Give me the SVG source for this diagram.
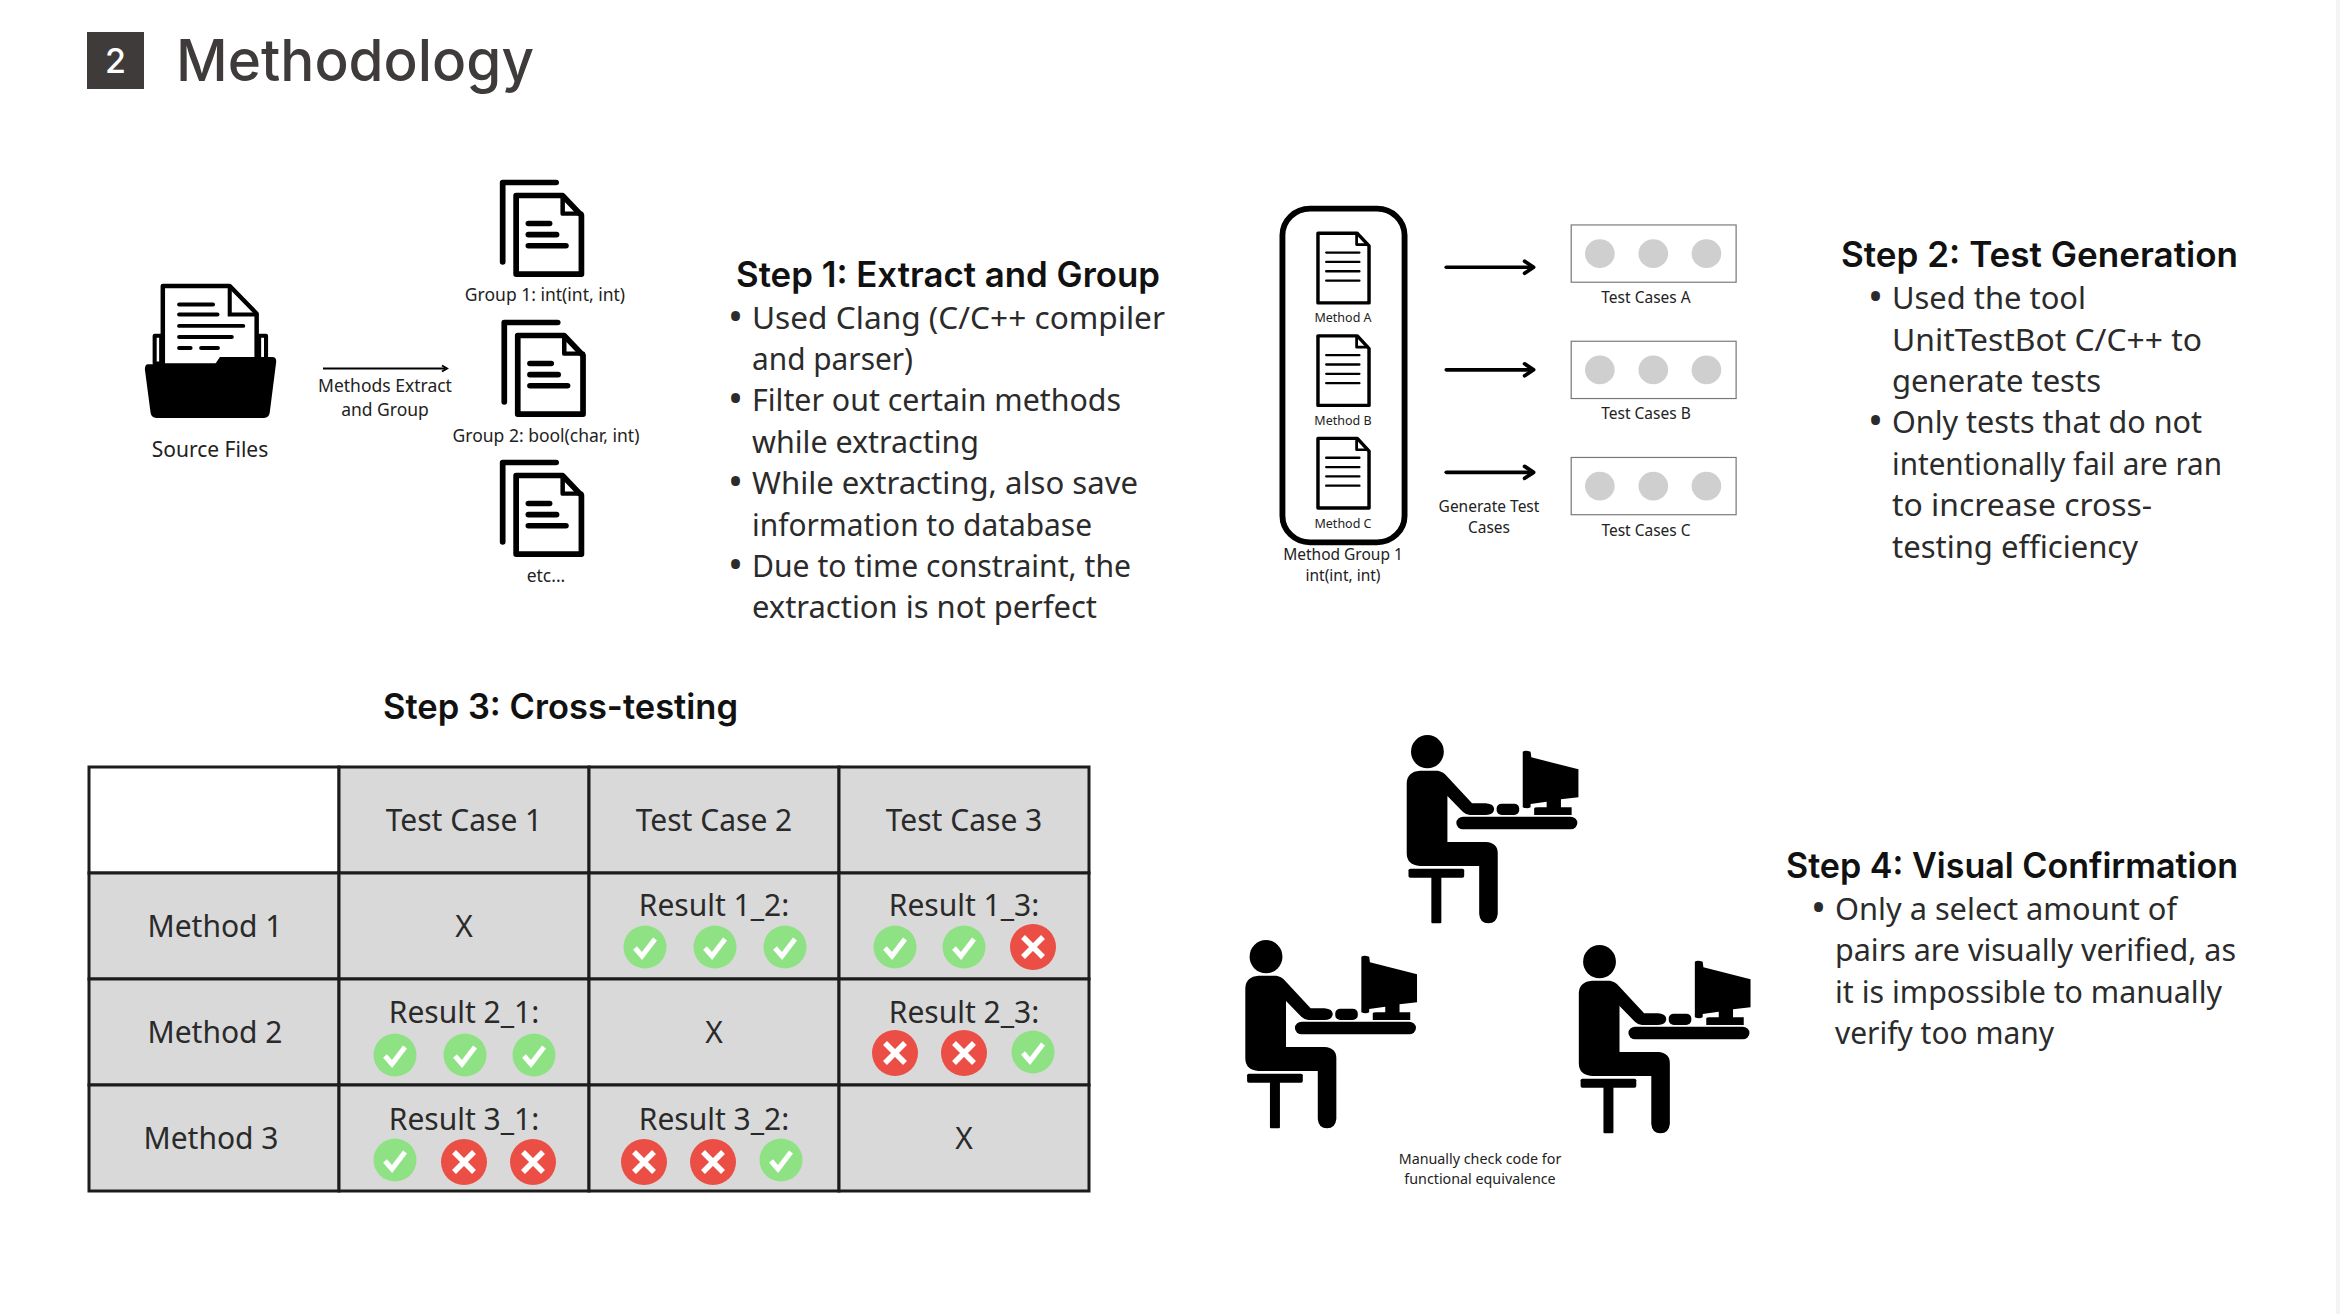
<svg xmlns="http://www.w3.org/2000/svg" width="2340" height="1314" viewBox="0 0 2340 1314">
<style>
text{font-family:"Noto Sans","Liberation Sans",sans-serif;fill:#222}
.body{font-size:31.5px;fill:#2b2b2b}
.bul{font-size:40px;fill:#2b2b2b}
.head{font-family:Inter,"Liberation Sans",sans-serif;font-size:35px;font-weight:600;fill:#111}
.cell{font-size:30px;text-anchor:middle;fill:#2a2a2a}
.s20{font-size:21px;text-anchor:middle}
.s17{font-size:17.500px;text-anchor:middle}
.s16{font-size:15.500px;text-anchor:middle}
.s13{font-size:12.500px;text-anchor:middle}
.grid{fill:#d9d9d9;stroke:#1c1c1c;stroke-width:3}
</style>
<defs>
<g id="stack" fill="none" stroke="#000" stroke-linecap="round" stroke-linejoin="round" stroke-width="14">
<path d="M1085,663V462H1216"/>
<path d="M1118,495H1232L1278,545V694H1118Z"/>
<path d="M1232,497V541H1278" stroke-width="11"/>
<path d="M1148,566H1200M1148,594H1217M1148,622H1240"/>
</g>
<g id="doc" fill="none" stroke="#000" stroke-linejoin="round" stroke-width="10">
<path d="M226,160H340L374,198V369H226Z"/>
<path d="M338,162V194H372" stroke-width="8"/>
<path d="M250,218H346M250,246H346M250,274H346M250,302H346" stroke-width="7" stroke-linecap="round"/>
</g>
<g id="tc">
<rect x="960" y="135" width="478" height="172" fill="#fff" stroke="#777" stroke-width="3.500"/>
<circle cx="1043" cy="221" r="43" fill="#cfcfcf"/><circle cx="1198" cy="221" r="43" fill="#cfcfcf"/><circle cx="1352" cy="221" r="43" fill="#cfcfcf"/>
</g>
<g id="arrow" fill="none" stroke="#000" stroke-width="11" stroke-linecap="round" stroke-linejoin="round"><path d="M598,262H848"/><path d="M825,244L851,262L825,280"/></g>
<g id="ok"><circle r="21.500" fill="#8ee284"/><path d="M-10,1L-3,9L10,-8" fill="none" stroke="#fff" stroke-width="5"/></g>
<g id="no"><circle r="23" fill="#ea4e45"/><path d="M-10,-10L10,10M10,-10L-10,10" fill="none" stroke="#fff" stroke-width="5.500"/></g>
<g id="person">
<ellipse cx="581" cy="125" rx="46" ry="50"/>
<path d="M560,182H610Q625,185 635,198L706,280H745Q768,282 768,298Q766,315 745,315H700Q690,315 680,305L637,258V396H745Q778,398 778,430V612Q775,640 752,640Q728,640 726,612V468H560Q523,465 523,430V218Q525,185 560,182Z"/>
<rect x="775" y="281" width="63" height="34" rx="14"/>
<path d="M848,125Q855,120 870,125L872,142L1004,178V262L955,268V292H985V315H880V296Q880,292 890,292H915V275L870,282V292Q860,298 848,292Z"/>
<rect x="662" y="320" width="339" height="38" rx="19"/>
<rect x="528" y="476" width="156" height="27" rx="5"/>
<rect x="592" y="500" width="28" height="140" rx="3"/>
</g>
</defs>
<rect width="2340" height="1314" fill="#fff"/>

<g id="title">
<rect x="87" y="32" width="57" height="57" fill="#3f3b3b"/>
<text x="115.500" y="73" font-size="34" font-weight="500" text-anchor="middle" style="font-family:Inter,'Liberation Sans',sans-serif;fill:#fff">2</text>
<text x="176" y="81" font-size="58" textLength="358" lengthAdjust="spacingAndGlyphs" style="font-family:Inter,'Liberation Sans',sans-serif;font-weight:500;fill:#3f3b3b">Methodology</text>
</g>

<g id="source-files">
<g transform="translate(60,0) scale(.408,.395)">
<path d="M232,850H248V920H232ZM488,850H505V920H488Z" fill="#fff" stroke="#000" stroke-width="10" stroke-linejoin="round"/>
<path d="M252,724H416L482,794V925H252Z" fill="#fff" stroke="#000" stroke-width="11" stroke-linejoin="round"/>
<path d="M416,724V796H482" fill="none" stroke="#000" stroke-width="10"/>
<path d="M292,771H375M292,796H386M292,825H449M292,853H421M292,881H320M346,881H387" fill="none" stroke="#000" stroke-width="10" stroke-linecap="round"/>
<path d="M216,922H380L392,904H520Q530,904 530,915L514,1045Q512,1058 500,1058H236Q224,1058 222,1045L208,935Q208,922 216,922Z"/>
</g>
<text class="s20" x="210" y="457">Source Files</text>
</g>

<g id="group-1"><use href="#stack" transform="translate(60,0) scale(.408,.395)"/><text class="s17" x="545" y="301">Group 1: int(int, int)</text></g>
<g id="group-2"><use href="#stack" transform="translate(61.600,140) scale(.408,.395)"/><text class="s17" x="546" y="442">Group 2: bool(char, int)</text></g>
<g id="group-etc"><use href="#stack" transform="translate(60,280) scale(.408,.395)"/><text class="s17" x="546" y="582">etc...</text></g>

<g id="connectors">
<path d="M323,368.500H445" stroke="#000" stroke-width="2" fill="none"/>
<path d="M442,365.500L447,368.500L442,371.500" stroke="#000" stroke-width="2" fill="none"/>
<g transform="translate(1240,180) scale(.345,.333)">
<use href="#arrow"/><use href="#arrow" y="308"/><use href="#arrow" y="616"/>
</g>
</g>
<text class="s17" x="385" y="392">Methods Extract</text>
<text class="s17" x="385" y="416">and Group</text>

<g id="step1-text">
<text class="head" x="736" y="287" textLength="424" lengthAdjust="spacingAndGlyphs">Step 1: Extract and Group</text>
<text class="bul" x="728" y="331">•</text><text class="body" x="752" y="329" textLength="413" lengthAdjust="spacingAndGlyphs">Used Clang (C/C++ compiler</text>
<text class="body" x="752" y="370" textLength="161" lengthAdjust="spacingAndGlyphs">and parser)</text>
<text class="bul" x="728" y="413">•</text><text class="body" x="752" y="411" textLength="369" lengthAdjust="spacingAndGlyphs">Filter out certain methods</text>
<text class="body" x="752" y="453" textLength="227" lengthAdjust="spacingAndGlyphs">while extracting</text>
<text class="bul" x="728" y="496">•</text><text class="body" x="752" y="494" textLength="386" lengthAdjust="spacingAndGlyphs">While extracting, also save</text>
<text class="body" x="752" y="536" textLength="340" lengthAdjust="spacingAndGlyphs">information to database</text>
<text class="bul" x="728" y="579">•</text><text class="body" x="752" y="577" textLength="379" lengthAdjust="spacingAndGlyphs">Due to time constraint, the</text>
<text class="body" x="752" y="618" textLength="345" lengthAdjust="spacingAndGlyphs">extraction is not perfect</text>
</g>

<g id="method-group">
<g transform="translate(1240,180) scale(.345,.333)">
<rect x="123" y="86" width="354" height="1002" rx="80" fill="#fff" stroke="#000" stroke-width="17"/>
<use href="#doc"/><use href="#doc" y="308"/><use href="#doc" y="616"/>
</g>
<text class="s13" x="1343" y="322">Method A</text>
<text class="s13" x="1343" y="425">Method B</text>
<text class="s13" x="1343" y="528">Method C</text>
<text class="s16" x="1343" y="560">Method Group 1</text>
<text class="s16" x="1343" y="581">int(int, int)</text>
</g>
<g id="test-cases-a"><use href="#tc" transform="translate(1240,180) scale(.345,.333)"/><text class="s16" x="1646" y="303">Test Cases A</text></g>
<g id="test-cases-b"><use href="#tc" transform="translate(1240,296.300) scale(.345,.333)"/><text class="s16" x="1646" y="419">Test Cases B</text></g>
<g id="test-cases-c"><use href="#tc" transform="translate(1240,412.500) scale(.345,.333)"/><text class="s16" x="1646" y="536">Test Cases C</text></g>
<text class="s16" x="1489" y="512">Generate Test</text>
<text class="s16" x="1489" y="533">Cases</text>

<g id="step2-text">
<text class="head" x="1841" y="267" textLength="397" lengthAdjust="spacingAndGlyphs">Step 2: Test Generation</text>
<text class="bul" x="1868" y="311">•</text><text class="body" x="1892" y="309" textLength="194" lengthAdjust="spacingAndGlyphs">Used the tool</text>
<text class="body" x="1892" y="351" textLength="310" lengthAdjust="spacingAndGlyphs">UnitTestBot C/C++ to</text>
<text class="body" x="1892" y="392" textLength="209" lengthAdjust="spacingAndGlyphs">generate tests</text>
<text class="bul" x="1868" y="435">•</text><text class="body" x="1892" y="433" textLength="310" lengthAdjust="spacingAndGlyphs">Only tests that do not</text>
<text class="body" x="1892" y="475" textLength="330" lengthAdjust="spacingAndGlyphs">intentionally fail are ran</text>
<text class="body" x="1892" y="516" textLength="260" lengthAdjust="spacingAndGlyphs">to increase cross-</text>
<text class="body" x="1892" y="558" textLength="246" lengthAdjust="spacingAndGlyphs">testing efficiency</text>
</g>

<text class="head" x="383" y="719" textLength="355" lengthAdjust="spacingAndGlyphs">Step 3: Cross-testing</text>

<g id="table">
<rect x="89" y="767" width="250" height="106" fill="#fff" stroke="#1c1c1c" stroke-width="3"/>
<rect class="grid" x="339" y="767" width="250" height="106"/><rect class="grid" x="589" y="767" width="250" height="106"/><rect class="grid" x="839" y="767" width="250" height="106"/>
<rect class="grid" x="89" y="873" width="250" height="106"/><rect class="grid" x="339" y="873" width="250" height="106"/><rect class="grid" x="589" y="873" width="250" height="106"/><rect class="grid" x="839" y="873" width="250" height="106"/>
<rect class="grid" x="89" y="979" width="250" height="106"/><rect class="grid" x="339" y="979" width="250" height="106"/><rect class="grid" x="589" y="979" width="250" height="106"/><rect class="grid" x="839" y="979" width="250" height="106"/>
<rect class="grid" x="89" y="1085" width="250" height="106"/><rect class="grid" x="339" y="1085" width="250" height="106"/><rect class="grid" x="589" y="1085" width="250" height="106"/><rect class="grid" x="839" y="1085" width="250" height="106"/>
<text class="cell" x="464" y="831">Test Case 1</text><text class="cell" x="714" y="831">Test Case 2</text><text class="cell" x="964" y="831">Test Case 3</text>
<text class="cell" x="215" y="937">Method 1</text><text class="cell" x="215" y="1043">Method 2</text><text class="cell" x="211" y="1149">Method 3</text>
<text class="cell" x="464" y="937">X</text><text class="cell" x="714" y="1043">X</text><text class="cell" x="964" y="1149">X</text>
<text class="cell" x="714" y="916">Result 1_2:</text><text class="cell" x="964" y="916">Result 1_3:</text>
<text class="cell" x="464" y="1023">Result 2_1:</text><text class="cell" x="964" y="1023">Result 2_3:</text>
<text class="cell" x="464" y="1130">Result 3_1:</text><text class="cell" x="714" y="1130">Result 3_2:</text>
<use href="#ok" x="645" y="947"/><use href="#ok" x="715" y="947"/><use href="#ok" x="785" y="947"/>
<use href="#ok" x="895" y="947"/><use href="#ok" x="964" y="947"/><use href="#no" x="1033" y="947"/>
<use href="#ok" x="395" y="1055"/><use href="#ok" x="465" y="1055"/><use href="#ok" x="534" y="1055"/>
<use href="#no" x="895" y="1053"/><use href="#no" x="964" y="1053"/><use href="#ok" x="1033" y="1052"/>
<use href="#ok" x="395" y="1160"/><use href="#no" x="464" y="1162"/><use href="#no" x="533" y="1162"/>
<use href="#no" x="644" y="1162"/><use href="#no" x="713" y="1162"/><use href="#ok" x="781" y="1160"/>
</g>

<g id="person-top"><use href="#person" transform="translate(1220,710) scale(.357,.3333)"/></g>
<g id="person-left"><use href="#person" transform="translate(1058.600,915) scale(.357,.3333)"/></g>
<g id="person-right"><use href="#person" transform="translate(1392.100,920) scale(.357,.3333)"/></g>
<text class="s13" x="1480" y="1164" style="font-size:14.300px">Manually check code for</text>
<text class="s13" x="1480" y="1184" style="font-size:14.300px">functional equivalence</text>

<g id="step4-text">
<text class="head" x="1786" y="878" textLength="452" lengthAdjust="spacingAndGlyphs">Step 4: Visual Confirmation</text>
<text class="bul" x="1811" y="922">•</text><text class="body" x="1835" y="920" textLength="342" lengthAdjust="spacingAndGlyphs">Only a select amount of</text>
<text class="body" x="1835" y="961" textLength="401" lengthAdjust="spacingAndGlyphs">pairs are visually verified, as</text>
<text class="body" x="1835" y="1003" textLength="387" lengthAdjust="spacingAndGlyphs">it is impossible to manually</text>
<text class="body" x="1835" y="1044" textLength="219" lengthAdjust="spacingAndGlyphs">verify too many</text>
</g>
<rect x="2336" y="0" width="4" height="1314" fill="#f4f4f4"/>
</svg>
